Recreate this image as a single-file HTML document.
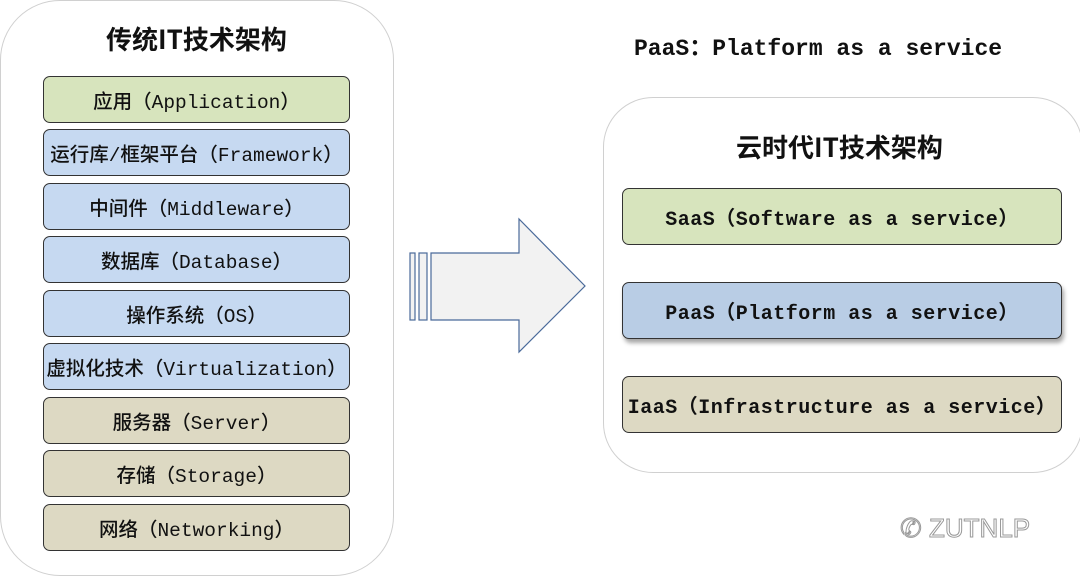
<!DOCTYPE html>
<html><head><meta charset="utf-8"><style>
body{margin:0;width:1080px;height:576px;background:#fff;position:relative;overflow:hidden;font-family:"Liberation Mono","Noto Sans CJK SC",monospace;color:#111}
.c{position:absolute;border:1px solid #d0d0d0;background:#fff}
.b{position:absolute;border:1.3px solid #333;border-radius:7px;display:flex;align-items:center;justify-content:center;font-size:19.5px;white-space:nowrap;box-sizing:border-box;font-weight:500}
.g{background:#d7e4bd}.u{background:#c6d9f1}.t{background:#ddd9c3}
.t1{position:absolute;font-size:26px;white-space:nowrap;font-family:"Noto Sans CJK SC",sans-serif;font-weight:bold}
.r{font-size:20px;letter-spacing:0.5px;font-weight:bold}
</style></head><body>
<div class="c" style="left:0;top:0;width:392px;height:574px;border-radius:60px"></div>
<div class="t1" style="left:106px;top:20px">传统IT技术架构</div>
<div class="b g" style="left:43px;top:76px;width:307px;height:47px">应用（Application）</div>
<div class="b u" style="left:43px;top:129px;width:307px;height:47px">运行库/框架平台（Framework）</div>
<div class="b u" style="left:43px;top:183px;width:307px;height:47px">中间件（Middleware）</div>
<div class="b u" style="left:43px;top:236px;width:307px;height:47px">数据库（Database）</div>
<div class="b u" style="left:43px;top:290px;width:307px;height:47px">操作系统（OS）</div>
<div class="b u" style="left:43px;top:343px;width:307px;height:47px">虚拟化技术（Virtualization）</div>
<div class="b t" style="left:43px;top:397px;width:307px;height:47px">服务器（Server）</div>
<div class="b t" style="left:43px;top:450px;width:307px;height:47px">存储（Storage）</div>
<div class="b t" style="left:43px;top:504px;width:307px;height:47px">网络（Networking）</div>

<div style="position:absolute;left:634px;top:28px;font-size:23px;white-space:nowrap;font-weight:bold">PaaS：Platform as a service</div>

<svg style="position:absolute;left:0;top:0" width="1080" height="576">
<g fill="#f2f2f2" stroke="#4a6a9a" stroke-width="1.2">
<rect x="410" y="253" width="5" height="67"/>
<rect x="419" y="253" width="8" height="67"/>
<polygon points="431,253 519,253 519,219 585,286 519,352 519,320 431,320"/>
</g></svg>

<div class="c" style="left:603px;top:97px;width:478px;height:374px;border-radius:50px"></div>
<div class="t1" style="left:736px;top:128px">云时代IT技术架构</div>
<div class="b g r" style="left:622px;top:188px;width:440px;height:57px">SaaS（Software as a service）</div>
<div class="b r" style="left:622px;top:282px;width:440px;height:57px;background:#b9cde5;box-shadow:2px 4px 4px rgba(0,0,0,0.35)">PaaS（Platform as a service）</div>
<div class="b t r" style="left:622px;top:376px;width:440px;height:57px">IaaS（Infrastructure as a service）</div>

<div style="position:absolute;left:900px;top:513px;font-size:26px;color:#fff;-webkit-text-stroke:1px #999;font-family:'Liberation Sans',sans-serif;white-space:nowrap">✆ ZUTNLP</div>
</body></html>
